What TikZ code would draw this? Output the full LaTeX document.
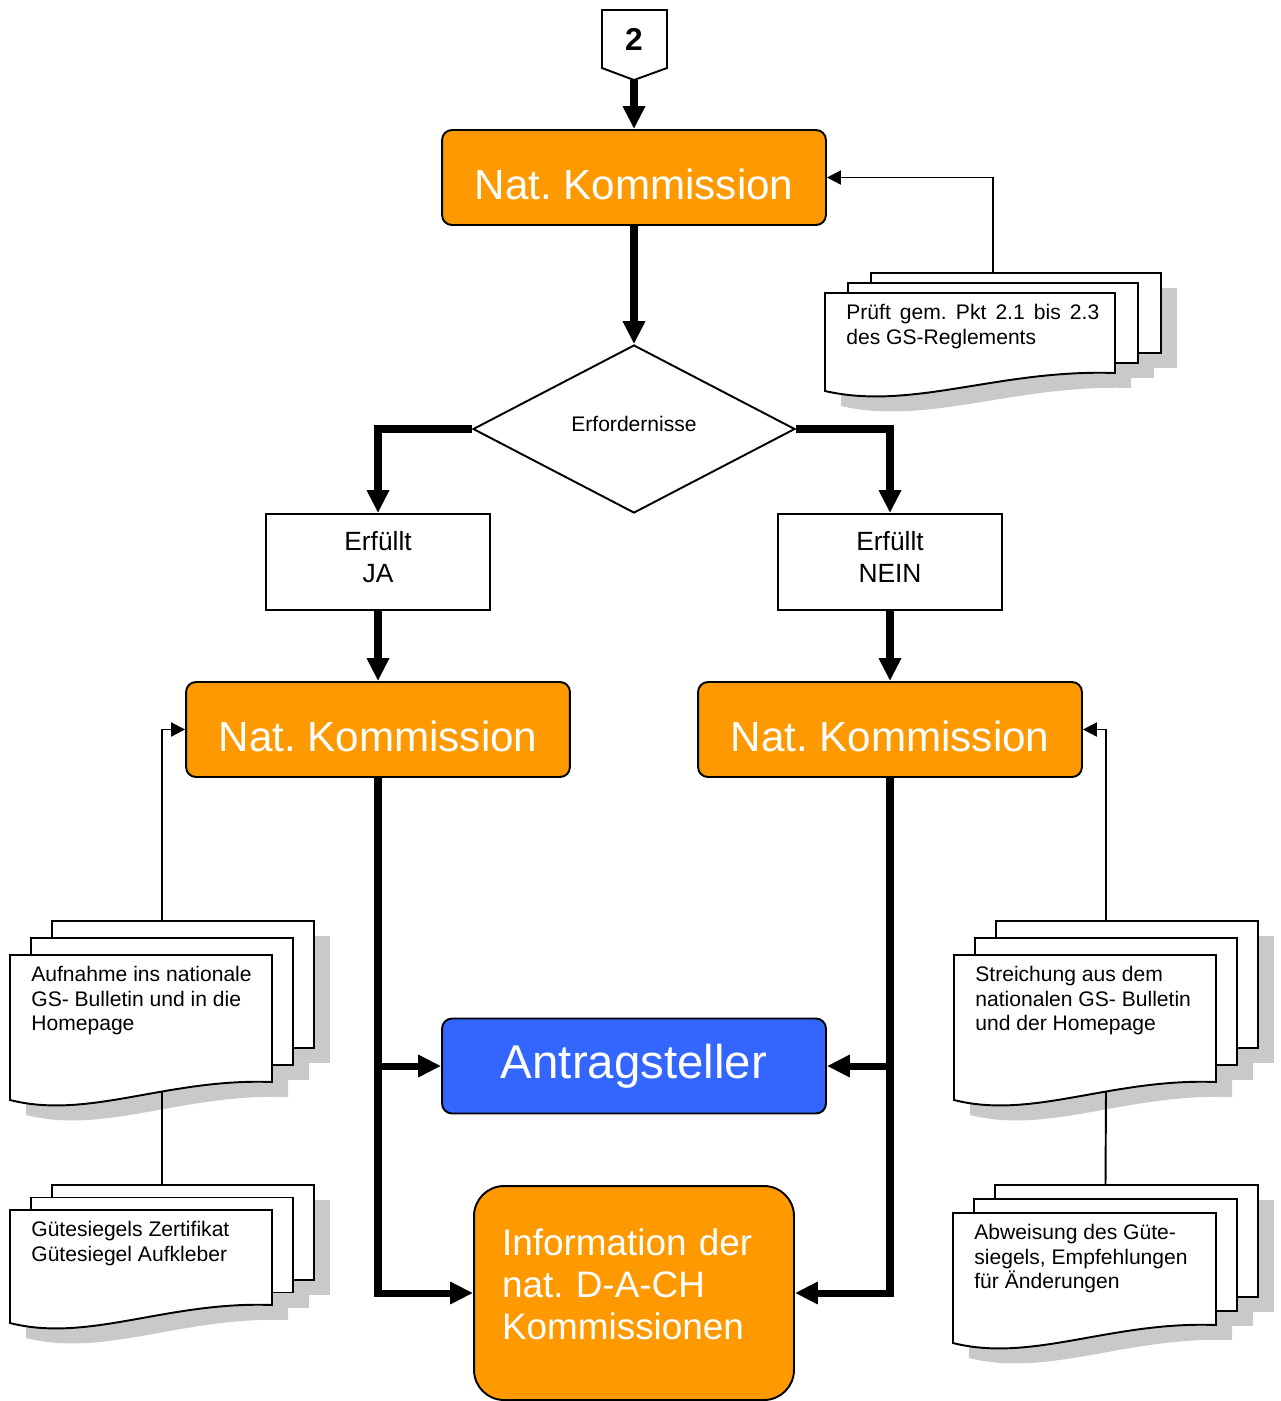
\documentclass[tikz,border=0pt]{standalone}
\usepackage{fontspec}
\setmainfont{Liberation Sans}
\usepackage{tikz}
\usetikzlibrary{arrows.meta,shapes.geometric}
\usepackage{xcolor}
\frenchspacing

\definecolor{natorange}{HTML}{FF9900}
\definecolor{antblue}{HTML}{3366FF}

\tikzset{
  kommission/.style={draw, line width=1.1pt, rounded corners=0.2cm, fill=natorange, text=white,
    font=\fontsize{24}{28}\selectfont, minimum width=7.68cm, minimum height=1.9cm},
  entscheid/.style={draw, diamond, line width=1.1pt, inner sep=0pt, minimum width=6.44cm,
    minimum height=3.36cm, font=\fontsize{12}{14}\selectfont},
  pruefbox/.style={draw, line width=1.1pt, minimum width=4.48cm, minimum height=1.92cm,
    align=center, font=\fontsize{15}{18}\selectfont},
  blatt/.style={draw, fill=white, line width=1.1pt},
  schatten/.style={fill=gray!42},
  doctext/.style={font=\fontsize{12}{14}\selectfont, align=left, inner sep=0pt, anchor=north west},
  flowarrow/.style={line width=4pt, -{Triangle[length=13pt,width=12pt]}},
  refarrow/.style={line width=1.1pt, -{Triangle[length=8pt,width=8pt]}},
  refline/.style={line width=1.1pt}
}

% stack of three pages: name, x, y, width, height, dx, dy, text
\newcommand{\docstack}[8]{%
  \begin{scope}[shift={(16,15)}]
    \fill[schatten] ({#2+2*#6},{#3-2*#7}) rectangle ++(#4,#5);
    \fill[schatten] ({#2+#6},{#3-#7}) rectangle ++(#4,#5);
    \fill[schatten] (#2,#3) -- ++(#4,0) -- ++(0,#5) .. controls ({#2+0.6*#4},{#3+#5-4}) and ({#2+0.3*#4},{#3+#5+38}) .. ({#2},{#3+#5+18}) -- cycle;
  \end{scope}
  \draw[blatt] ({#2+2*#6},{#3-2*#7}) rectangle ++(#4,#5);
  \draw[blatt] ({#2+#6},{#3-#7}) rectangle ++(#4,#5);
  \draw[blatt] (#2,#3) -- ++(#4,0) -- ++(0,#5) .. controls ({#2+0.6*#4},{#3+#5-4}) and ({#2+0.3*#4},{#3+#5+38}) .. ({#2},{#3+#5+18}) -- cycle;
  \node[doctext] (#1) at ({#2+21},{#3+11}) {#8};
  \coordinate (#1-top) at ({#2+#6+#4/2},{#3-2*#7});
  \coordinate (#1-bot) at ({#2+#6+#4/2},{#3+#5+10});
}

\begin{document}
\begin{tikzpicture}[x=0.02cm, y=-0.02cm]
\useasboundingbox (0,0) rectangle (1281,1401);

% off-page reference
\draw[blatt] (602,10) -- (667,10) -- (667,68) -- (634,80) -- (602,68) -- cycle;
\node[font=\bfseries\fontsize{18}{20}\selectfont] (seite) at (634,39) {2};
\coordinate (seite-tip) at (634,80);

% main flow
\node[kommission, text height=25pt] (nk1) at (634,177.5) {Nat. Kommission};
\node[entscheid, text depth=5.5pt] (req) at (634,429) {Erfordernisse};
\node[pruefbox, text depth=6pt] (ja) at (378,562) {Erfüllt\\JA};
\node[pruefbox, text depth=6pt] (nein) at (890,562) {Erfüllt\\NEIN};
\node[kommission, text height=25pt] (nk2) at (378,729.5) {Nat. Kommission};
\node[kommission, text height=25pt] (nk3) at (890,729.5) {Nat. Kommission};
\node[kommission, fill=antblue, font=\fontsize{27}{32}\selectfont] (ant) at (634,1066) {Antragsteller};
\node[kommission, rounded corners=0.6cm, minimum width=6.4cm, minimum height=4.28cm,
  text width=5.28cm, inner xsep=0.56cm, align=left, font=\fontsize{21}{24}\selectfont, text depth=58pt]
  (info) at (634,1293) {Information der\\nat. D-A-CH\\Kommissionen};

% documents
\docstack{pruef}{825}{293}{290}{80}{23}{10}{\makebox[5.06cm][s]{Prüft gem. Pkt 2.1 bis 2.3}\\des GS-Reglements}
\docstack{aufn}{10}{955}{262}{127}{21}{17}{Aufnahme ins nationale\\GS- Bulletin und in die\\Homepage}
\docstack{guete}{10}{1210}{262}{95}{21}{12.5}{Gütesiegels Zertifikat\\Gütesiegel Aufkleber}
\docstack{streich}{954}{955}{262}{127}{21}{17}{Streichung aus dem\\nationalen GS- Bulletin\\und der Homepage}
\docstack{abw}{953}{1213}{263}{112}{21}{14}{Abweisung des Güte-\\siegels, Empfehlungen\\für Änderungen}

% thick connectors
\draw[flowarrow] (seite-tip) -- (nk1.north);
\draw[flowarrow] (nk1.south) -- (req.north);
\draw[flowarrow] (req.west) -| (ja.north);
\draw[flowarrow] (req.east) -| (nein.north);
\draw[flowarrow] (ja.south) -- (nk2.north);
\draw[flowarrow] (nein.south) -- (nk3.north);
\draw[flowarrow] (nk2.south) |- (info.west);
\draw[flowarrow] (nk2.south |- ant.west) -- (ant.west);
\draw[flowarrow] (nk3.south) |- (info.east);
\draw[flowarrow] (nk3.south |- ant.east) -- (ant.east);

% thin connectors to the documents
\draw[refarrow] (pruef-top) |- (nk1.east);
\draw[refarrow] (aufn-top) |- (nk2.west);
\draw[refarrow] (streich-top) |- (nk3.east);
\draw[refline] (aufn-bot) -- (guete-top);
\draw[refline] (streich-bot) -- (abw-top);
\end{tikzpicture}
\end{document}
